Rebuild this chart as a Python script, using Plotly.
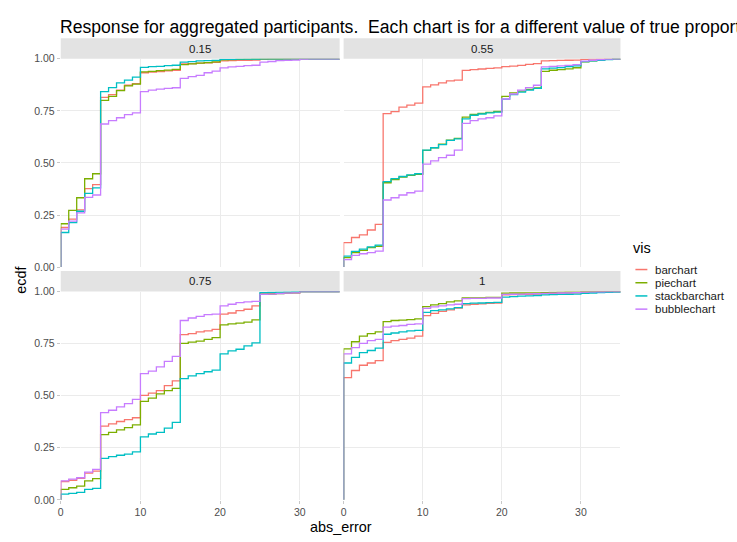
import plotly.graph_objects as go

W, H = 737, 542

# x positions of the ECDF steps (absolute error, integer units)
abs_error = list(range(36))

vis_levels = ["barchart", "piechart", "stackbarchart", "bubblechart"]
vis_colors = ["#F8766D", "#7CAE00", "#00BFC4", "#C77CFF"]
true_values = ["0.15", "0.55", "0.75", "1"]

# ---- true value 0.15 ----
ecdf_015_barchart = [0.190, 0.230, 0.275, 0.377, 0.396, 0.815, 0.828, 0.850, 0.873, 0.881,
                     0.933, 0.936, 0.939, 0.942, 0.945, 0.975, 0.977, 0.979, 0.981, 0.983,
                     0.990, 0.991, 0.992, 0.993, 0.994, 0.997, 0.998, 0.998, 0.999, 0.999,
                     1.000, 1.000, 1.000, 1.000, 1.000, 1.000]
ecdf_015_piechart = [0.208, 0.272, 0.333, 0.424, 0.448, 0.800, 0.820, 0.847, 0.870, 0.878,
                     0.937, 0.940, 0.943, 0.946, 0.949, 0.972, 0.976, 0.979, 0.982, 0.985,
                     0.995, 0.996, 0.997, 0.998, 0.999, 1.000, 1.000, 1.000, 1.000, 1.000,
                     1.000, 1.000, 1.000, 1.000, 1.000, 1.000]
ecdf_015_stackbarchart = [0.166, 0.213, 0.268, 0.354, 0.380, 0.842, 0.862, 0.884, 0.898, 0.912,
                          0.959, 0.962, 0.964, 0.967, 0.969, 0.984, 0.986, 0.990, 0.991, 0.992,
                          0.997, 0.997, 0.998, 0.998, 0.999, 1.000, 1.000, 1.000, 1.000, 1.000,
                          1.000, 1.000, 1.000, 1.000, 1.000, 1.000]
ecdf_015_bubblechart = [0.182, 0.221, 0.260, 0.335, 0.346, 0.687, 0.703, 0.717, 0.732, 0.740,
                        0.842, 0.850, 0.854, 0.858, 0.861, 0.906, 0.914, 0.920, 0.933, 0.941,
                        0.956, 0.961, 0.964, 0.967, 0.969, 0.984, 0.987, 0.991, 0.992, 0.994,
                        0.998, 1.000, 1.000, 1.000, 1.000, 1.000]

# ---- true value 0.55 ----
ecdf_055_barchart = [0.117, 0.142, 0.155, 0.178, 0.205, 0.737, 0.746, 0.768, 0.778, 0.787,
                     0.865, 0.875, 0.884, 0.894, 0.898, 0.944, 0.948, 0.951, 0.954, 0.956,
                     0.962, 0.965, 0.968, 0.973, 0.977, 0.990, 0.991, 0.992, 0.993, 0.994,
                     0.997, 0.998, 0.999, 1.000, 1.000, 1.000]
ecdf_055_piechart = [0.045, 0.070, 0.080, 0.093, 0.100, 0.405, 0.420, 0.432, 0.440, 0.445,
                     0.560, 0.573, 0.590, 0.610, 0.618, 0.720, 0.733, 0.738, 0.743, 0.747,
                     0.820, 0.836, 0.845, 0.853, 0.860, 0.940, 0.945, 0.948, 0.952, 0.957,
                     0.985, 0.990, 0.994, 0.997, 1.000, 1.000]
ecdf_055_stackbarchart = [0.053, 0.075, 0.086, 0.097, 0.105, 0.410, 0.425, 0.435, 0.443, 0.448,
                          0.562, 0.573, 0.588, 0.608, 0.616, 0.712, 0.729, 0.735, 0.740, 0.744,
                          0.806, 0.828, 0.840, 0.850, 0.858, 0.952, 0.955, 0.958, 0.962, 0.966,
                          0.986, 0.990, 0.993, 0.996, 1.000, 1.000]
ecdf_055_bubblechart = [0.036, 0.056, 0.064, 0.069, 0.077, 0.322, 0.333, 0.346, 0.357, 0.365,
                        0.494, 0.510, 0.526, 0.537, 0.562, 0.690, 0.703, 0.712, 0.717, 0.726,
                        0.807, 0.831, 0.850, 0.862, 0.873, 0.961, 0.964, 0.966, 0.968, 0.972,
                        0.989, 0.993, 0.996, 0.998, 1.000, 1.000]

# ---- true value 0.75 ----
ecdf_075_barchart = [0.088, 0.094, 0.103, 0.128, 0.138, 0.354, 0.365, 0.376, 0.385, 0.394,
                     0.501, 0.512, 0.524, 0.548, 0.571, 0.793, 0.798, 0.806, 0.811, 0.818,
                     0.892, 0.897, 0.908, 0.915, 0.931, 0.989, 0.990, 0.992, 0.993, 0.994,
                     1.000, 1.000, 1.000, 1.000, 1.000, 1.000]
ecdf_075_piechart = [0.050, 0.058, 0.066, 0.091, 0.102, 0.313, 0.324, 0.336, 0.347, 0.360,
                     0.473, 0.488, 0.509, 0.524, 0.535, 0.751, 0.757, 0.762, 0.770, 0.779,
                     0.840, 0.845, 0.848, 0.853, 0.864, 0.986, 0.988, 0.990, 0.992, 0.994,
                     1.000, 1.000, 1.000, 1.000, 1.000, 1.000]
ecdf_075_stackbarchart = [0.027, 0.031, 0.036, 0.050, 0.055, 0.199, 0.207, 0.214, 0.219, 0.230,
                          0.302, 0.316, 0.324, 0.344, 0.372, 0.582, 0.595, 0.606, 0.615, 0.623,
                          0.701, 0.715, 0.723, 0.739, 0.754, 0.995, 0.996, 0.997, 0.998, 0.999,
                          1.000, 1.000, 1.000, 1.000, 1.000, 1.000]
ecdf_075_bubblechart = [0.091, 0.099, 0.106, 0.133, 0.146, 0.419, 0.430, 0.446, 0.462, 0.482,
                        0.606, 0.618, 0.638, 0.665, 0.689, 0.861, 0.873, 0.881, 0.889, 0.892,
                        0.931, 0.939, 0.947, 0.950, 0.953, 0.986, 0.988, 0.990, 0.992, 0.994,
                        1.000, 1.000, 1.000, 1.000, 1.000, 1.000]

# ---- true value 1 ----
ecdf_1_barchart = [0.587, 0.621, 0.646, 0.657, 0.668, 0.756, 0.764, 0.770, 0.776, 0.786,
                   0.884, 0.895, 0.905, 0.912, 0.920, 0.936, 0.939, 0.941, 0.943, 0.944,
                   0.984, 0.985, 0.986, 0.987, 0.988, 0.990, 0.991, 0.992, 0.993, 0.994,
                   0.997, 0.998, 0.999, 1.000, 1.000, 1.000]
ecdf_1_piechart = [0.725, 0.759, 0.786, 0.798, 0.806, 0.856, 0.861, 0.863, 0.865, 0.869,
                   0.928, 0.936, 0.942, 0.950, 0.955, 0.969, 0.970, 0.970, 0.972, 0.972,
                   0.992, 0.993, 0.993, 0.994, 0.994, 0.995, 0.996, 0.997, 0.998, 0.998,
                   0.999, 1.000, 1.000, 1.000, 1.000, 1.000]
ecdf_1_stackbarchart = [0.657, 0.684, 0.707, 0.717, 0.728, 0.795, 0.801, 0.806, 0.811, 0.814,
                        0.900, 0.908, 0.912, 0.917, 0.923, 0.942, 0.944, 0.945, 0.947, 0.948,
                        0.973, 0.976, 0.978, 0.979, 0.981, 0.984, 0.985, 0.986, 0.987, 0.988,
                        0.991, 0.993, 0.995, 0.996, 0.997, 0.998]
ecdf_1_bubblechart = [0.701, 0.731, 0.751, 0.764, 0.770, 0.829, 0.834, 0.837, 0.842, 0.845,
                      0.919, 0.926, 0.931, 0.936, 0.939, 0.966, 0.967, 0.967, 0.969, 0.969,
                      0.986, 0.987, 0.988, 0.989, 0.990, 0.991, 0.992, 0.993, 0.994, 0.995,
                      0.997, 0.998, 0.999, 1.000, 1.000, 1.000]

facet_series = {
    "0.15": [ecdf_015_barchart, ecdf_015_piechart, ecdf_015_stackbarchart, ecdf_015_bubblechart],
    "0.55": [ecdf_055_barchart, ecdf_055_piechart, ecdf_055_stackbarchart, ecdf_055_bubblechart],
    "0.75": [ecdf_075_barchart, ecdf_075_piechart, ecdf_075_stackbarchart, ecdf_075_bubblechart],
    "1": [ecdf_1_barchart, ecdf_1_piechart, ecdf_1_stackbarchart, ecdf_1_bubblechart],
}

FONT = "Liberation Sans, Arial, Helvetica, sans-serif"


def px_x(p):
    return p / W


def px_y(p):
    return 1 - p / H


# panel boxes in pixels: (left, right, top, bottom)
panel_px = [
    (58, 338, 54, 267),
    (342, 620, 54, 267),
    (58, 338, 292, 505),
    (342, 620, 292, 505),
]
strip_h = 21

fig = go.Figure()

for i, tv in enumerate(true_values):
    suffix = "" if i == 0 else str(i + 1)
    for name, color, vals in zip(vis_levels, vis_colors, facet_series[tv]):
        # ECDF padded on both sides so the steps run from 0 up to 1 across the panel
        xs = [-5] + abs_error + [60]
        ys = [0.0] + vals + [1.0]
        fig.add_trace(go.Scatter(
            x=xs, y=ys, mode="lines", name=name,
            line=dict(color=color, width=1.3, shape="hv"),
            xaxis="x" + suffix, yaxis="y" + suffix,
            showlegend=False, hoverinfo="skip",
        ))

layout = dict(
    width=W, height=H, autosize=False,
    margin=dict(l=0, r=0, t=0, b=0),
    paper_bgcolor="white", plot_bgcolor="white",
    font=dict(family=FONT, color="#1A1A1A"),
    showlegend=False,
)

for i, (l, r, t, b) in enumerate(panel_px):
    suffix = "" if i == 0 else str(i + 1)
    bottom_row = i >= 2
    left_col = i % 2 == 0
    layout["xaxis" + suffix] = dict(
        domain=[px_x(l), px_x(r)], anchor="y" + suffix, range=[0, 35],
        tickvals=[0, 10, 20, 30], ticktext=["0", "10", "20", "30"],
        showticklabels=bottom_row, ticks="outside" if bottom_row else "",
        ticklen=3, tickcolor="#C8C8C8",
        tickfont=dict(family=FONT, size=10.5, color="#4D4D4D"),
        showgrid=True, gridcolor="#EBEBEB", gridwidth=1,
        zeroline=False, showline=False, fixedrange=True,
    )
    layout["yaxis" + suffix] = dict(
        domain=[px_y(b), px_y(t)], anchor="x" + suffix, range=[0, 1],
        tickvals=[0, 0.25, 0.5, 0.75, 1],
        ticktext=["0.00", "0.25", "0.50", "0.75", "1.00"],
        showticklabels=left_col, ticks="outside" if left_col else "",
        ticklen=3, tickcolor="#C8C8C8",
        tickfont=dict(family=FONT, size=10.5, color="#4D4D4D"),
        showgrid=True, gridcolor="#EBEBEB", gridwidth=1,
        zeroline=False, showline=False, fixedrange=True,
    )

shapes = []
annotations = []

# facet strips
for (l, r, t, b), tv in zip(panel_px, true_values):
    shapes.append(dict(
        type="rect", xref="paper", yref="paper",
        x0=px_x(l), x1=px_x(r), y0=px_y(t), y1=px_y(t - strip_h),
        fillcolor="#E3E3E3", line=dict(width=0), layer="below",
    ))
    annotations.append(dict(
        text=tv, xref="paper", yref="paper",
        x=px_x((l + r) / 2), y=px_y(t - strip_h / 2),
        xanchor="center", yanchor="middle", showarrow=False,
        font=dict(family=FONT, size=11.5, color="#1A1A1A"),
    ))

# title (runs past the right edge of the page, as in the original figure)
annotations.append(dict(
    text="Response for aggregated participants.\u00a0 Each chart is for a different value of true proportion",
    xref="paper", yref="paper", x=px_x(55), y=px_y(21),
    xanchor="left", yanchor="middle", showarrow=False,
    font=dict(family=FONT, size=17.6, color="#000000"),
))

# axis titles
annotations.append(dict(
    text="abs_error", xref="paper", yref="paper", x=px_x(339), y=px_y(533),
    xanchor="center", yanchor="middle", showarrow=False,
    font=dict(family=FONT, size=14.4, color="#000000"),
))
annotations.append(dict(
    text="ecdf", xref="paper", yref="paper", x=px_x(18), y=px_y(280),
    xanchor="center", yanchor="middle", showarrow=False, textangle=-90,
    font=dict(family=FONT, size=14.4, color="#000000"),
))

# legend
annotations.append(dict(
    text="vis", xref="paper", yref="paper", x=px_x(631), y=px_y(247),
    xanchor="left", yanchor="middle", showarrow=False,
    font=dict(family=FONT, size=14.5, color="#000000"),
))
legend_rows = [269.5, 283, 296.5, 310]
for name, color, yy in zip(vis_levels, vis_colors, legend_rows):
    shapes.append(dict(
        type="line", xref="paper", yref="paper",
        x0=px_x(635), x1=px_x(647), y0=px_y(yy), y1=px_y(yy),
        line=dict(color=color, width=1.5),
    ))
    annotations.append(dict(
        text=name, xref="paper", yref="paper", x=px_x(653), y=px_y(yy),
        xanchor="left", yanchor="middle", showarrow=False,
        font=dict(family=FONT, size=11.5, color="#1A1A1A"),
    ))

layout["shapes"] = shapes
layout["annotations"] = annotations
fig.update_layout(**layout)

fig.write_html("out.html")
